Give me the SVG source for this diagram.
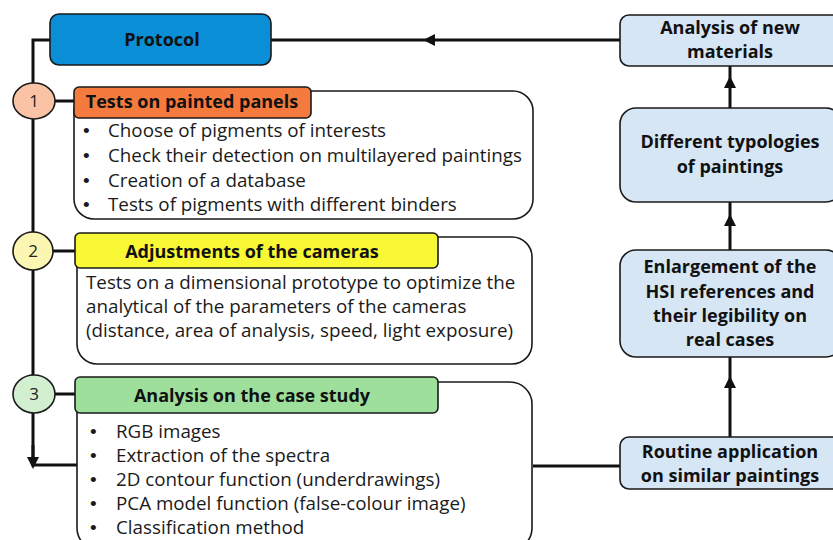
<svg xmlns="http://www.w3.org/2000/svg" width="833" height="540" viewBox="0 0 833 540">
  <defs>
    <marker id="arrow" viewBox="0 0 10 10" refX="5" refY="5" markerWidth="4" markerHeight="4" orient="auto" markerUnits="strokeWidth">
      <path d="M0,0 L10,5 L0,10 z" fill="#111"/>
    </marker>
    <style>
      .box { stroke: #1a1a1a; stroke-width: 1.6; }
      .white { fill: #ffffff; }
      .side { fill: #d6e6f5; }
      .conn { fill: none; stroke: #111; stroke-width: 3; }
      .title { font-family: "Open Sans", "Liberation Sans", Arial, sans-serif; font-weight: bold; font-size: 18px; fill: #111; text-anchor: middle; }
      .body { font-family: "Open Sans", "Liberation Sans", Arial, sans-serif; font-size: 18.8px; fill: #1a1a1a; }
      .dot { font-family: "Liberation Sans", Arial, sans-serif; font-size: 19px; fill: #1a1a1a; }
      .num { font-family: "Open Sans", "Liberation Sans", Arial, sans-serif; font-size: 17px; fill: #222; text-anchor: middle; }
    </style>
  </defs>

  <rect width="833" height="540" fill="#ffffff"/>

  <!-- connectors -->
  <g id="connectors">
    <path class="conn" d="M50,40 H33 V465 H77"/>
    <path class="conn" d="M33,445 V463" marker-end="url(#arrow)"/>
    <path class="conn" d="M54,101 H74 M53,251 H75 M55,394 H75"/>
    <path class="conn" d="M620,40 H429 H271" marker-mid="url(#arrow)"/>
    <path class="conn" d="M533,466 H620"/>
    <path class="conn" d="M730,437 V382 V357" marker-mid="url(#arrow)"/>
    <path class="conn" d="M730,250 V220 V202" marker-mid="url(#arrow)"/>
    <path class="conn" d="M730,108 V82 V66" marker-mid="url(#arrow)"/>
  </g>

  <!-- main protocol node -->
  <g id="protocol">
    <rect class="box" x="50" y="14" width="221" height="51" rx="9" fill="#0a8ed6"/>
    <text class="title" x="162" y="46">Protocol</text>
  </g>

  <!-- step 1 -->
  <g id="step1">
    <ellipse class="box" cx="34" cy="101" rx="21" ry="18" fill="#fbc3a6"/>
    <text class="num" x="34" y="107">1</text>
    <rect class="box white" x="74" y="91" width="459" height="128" rx="20"/>
    <rect class="box" x="74" y="87" width="237" height="31" rx="5" fill="#f47b3d"/>
    <text class="title" x="192" y="108">Tests on painted panels</text>
    <g class="dot">
      <text x="83" y="137">•</text>
      <text x="83" y="162">•</text>
      <text x="83" y="187">•</text>
      <text x="83" y="211">•</text>
    </g>
    <g class="body">
      <text x="108" y="137">Choose of pigments of interests</text>
      <text x="108" y="162">Check their detection on multilayered paintings</text>
      <text x="108" y="187">Creation of a database</text>
      <text x="108" y="211">Tests of pigments with different binders</text>
    </g>
  </g>

  <!-- step 2 -->
  <g id="step2">
    <ellipse class="box" cx="33" cy="251" rx="20" ry="19" fill="#fbf7b2"/>
    <text class="num" x="33" y="257">2</text>
    <rect class="box white" x="77" y="237" width="455" height="127" rx="20"/>
    <rect class="box" x="75" y="233" width="363" height="35" rx="5" fill="#f8f834"/>
    <text class="title" x="252" y="258">Adjustments of the cameras</text>
    <g class="body">
      <text x="86" y="289">Tests on a dimensional prototype to optimize the</text>
      <text x="86" y="313">analytical of the parameters of the cameras</text>
      <text x="86" y="337">(distance, area of analysis, speed, light exposure)</text>
    </g>
  </g>

  <!-- step 3 -->
  <g id="step3">
    <ellipse class="box" cx="34" cy="394" rx="21" ry="19" fill="#d2f0cf"/>
    <text class="num" x="34" y="400">3</text>
    <rect class="box white" x="77" y="382" width="455" height="168" rx="22"/>
    <rect class="box" x="75" y="377" width="363" height="36" rx="5" fill="#9ee09b"/>
    <text class="title" x="252" y="402">Analysis on the case study</text>
    <g class="dot">
      <text x="90" y="438">•</text>
      <text x="90" y="462">•</text>
      <text x="90" y="486">•</text>
      <text x="90" y="510">•</text>
      <text x="90" y="534">•</text>
    </g>
    <g class="body">
      <text x="116" y="438">RGB images</text>
      <text x="116" y="462">Extraction of the spectra</text>
      <text x="116" y="486">2D contour function (underdrawings)</text>
      <text x="116" y="510">PCA model function (false-colour image)</text>
      <text x="116" y="534">Classification method</text>
    </g>
  </g>

  <!-- right-hand column -->
  <g id="new-materials">
    <rect class="box side" x="620" y="15" width="222" height="51" rx="9"/>
    <text class="title" x="730" y="34">Analysis of new</text>
    <text class="title" x="730" y="58">materials</text>
  </g>

  <g id="typologies">
    <rect class="box side" x="620" y="108" width="222" height="94" rx="16"/>
    <text class="title" x="730" y="148">Different typologies</text>
    <text class="title" x="730" y="173">of paintings</text>
  </g>

  <g id="enlargement">
    <rect class="box side" x="620" y="250" width="222" height="107" rx="16"/>
    <text class="title" x="730" y="273">Enlargement of the</text>
    <text class="title" x="730" y="298">HSI references and</text>
    <text class="title" x="730" y="322">their legibility on</text>
    <text class="title" x="730" y="346">real cases</text>
  </g>

  <g id="routine">
    <rect class="box side" x="620" y="437" width="222" height="52" rx="9"/>
    <text class="title" x="730" y="458">Routine application</text>
    <text class="title" x="730" y="482">on similar paintings</text>
  </g>
</svg>
